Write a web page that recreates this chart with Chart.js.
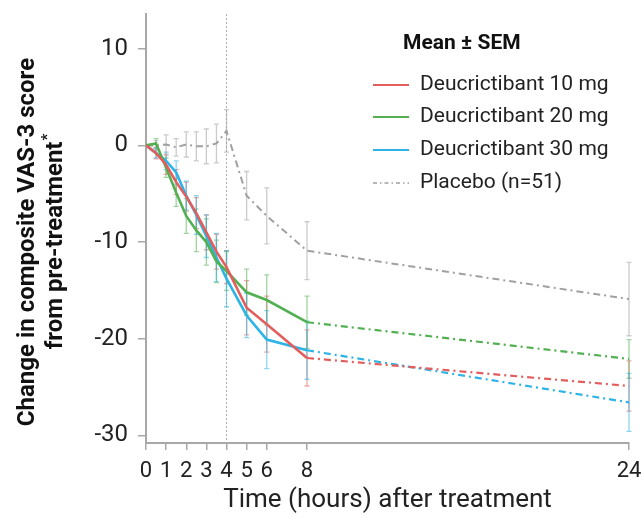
<!DOCTYPE html>
<html>
<head>
<meta charset="utf-8">
<script src="https://cdn.jsdelivr.net/npm/chart.js@4.4.1/dist/chart.umd.min.js"></script>
<style>
    html, body { margin: 0; padding: 0; background: #fff; }
    #wrap { width: 641px; height: 518px; }
</style>
</head>
<body>
<div id="wrap"><canvas id="vasChart"></canvas></div>
<script>
// Sampling times (hours after treatment)
const hours = [0, 0.5, 1, 1.5, 2, 2.5, 3, 3.5, 4, 5, 6, 8, 24];
const xTickHours = [0, 1, 2, 3, 4, 5, 6, 8, 24];
const yTickValues = [10, 0, -10, -20, -30];

// Mean change from pre-treatment and SEM
const dose10 = [0, -0.8, -2.0, -3.8, -5.3, -7.0, -9.0, -11.0, -12.6, -16.8, -18.5, -22.0, -24.9];
const dose10Sem = [0, 0.6, 1.0, 1.3, 1.5, 1.6, 1.8, 1.8, 1.7, 2.8, 2.9, 2.9, 2.6];
const dose20 = [0, 0.2, -2.3, -4.9, -7.3, -8.8, -10.0, -12.0, -13.0, -15.2, -16.0, -18.3, -22.1];
const dose20Sem = [0, 0.5, 1.0, 1.4, 1.8, 2.2, 2.4, 2.2, 2.0, 2.4, 2.6, 2.7, 2.0];
const dose30 = [0, -0.8, -1.6, -2.8, -5.2, -7.2, -9.4, -11.6, -13.8, -17.6, -20.1, -21.2, -26.6];
const dose30Sem = [0, 0.5, 0.9, 1.2, 1.5, 2.0, 2.2, 2.5, 2.9, 2.3, 3.0, 3.0, 3.0];
const placebo = [0, 0, 0.1, -0.2, 0.1, -0.1, -0.1, 0.2, 1.5, -5.2, -7.3, -10.9, -15.9];
const placeboSem = [0, 0.5, 1.0, 0.9, 1.3, 1.5, 1.8, 2.0, 2.2, 2.5, 2.9, 3.0, 3.8];

const seriesLabels = ['Deucrictibant 10 mg', 'Deucrictibant 20 mg', 'Deucrictibant 30 mg', 'Placebo (n=51)'];
const legendTitle = 'Mean ± SEM';
const treatmentHour = 4;
const solidUntilHour = 8;

const FONT = 'Roboto, "Noto Sans", sans-serif';
const DASH_DOT = [7, 4, 2, 4];

const colors = {
    red: '#e35d5d',
    green: '#52b052',
    blue: '#2db4e6',
    gray: '#a0a0a0'
};
const barColors = ['rgba(227, 93, 93, 0.55)', 'rgba(82, 176, 82, 0.55)', 'rgba(45, 180, 230, 0.55)', 'rgba(160, 160, 160, 0.55)'];

function points(values) {
    return hours.map((h, i) => ({ x: h, y: values[i] }));
}

function drugDataset(label, values, sem, color) {
    return {
        label: label,
        data: points(values),
        sem: sem,
        borderColor: color,
        borderWidth: 2.6,
        pointRadius: 0,
        tension: 0,
        segment: {
            borderDash: ctx => ctx.p0.parsed.x >= solidUntilHour ? DASH_DOT : undefined,
            borderWidth: ctx => ctx.p0.parsed.x >= solidUntilHour ? 2.2 : 2.6
        }
    };
}

// Error bars, drawn under the lines
const errorBarPlugin = {
    id: 'errorBars',
    beforeDatasetsDraw(chart) {
        const ctx = chart.ctx;
        const x = chart.scales.x;
        const y = chart.scales.y;
        ctx.save();
        chart.data.datasets.forEach((ds, di) => {
            ctx.strokeStyle = barColors[di];
            ctx.lineWidth = 1.3;
            ds.data.forEach((p, i) => {
                const s = ds.sem[i];
                if (!s) return;
                const px = x.getPixelForValue(p.x);
                const top = y.getPixelForValue(p.y + s);
                const bottom = y.getPixelForValue(p.y - s);
                ctx.beginPath();
                ctx.moveTo(px, top);
                ctx.lineTo(px, bottom);
                ctx.moveTo(px - 2.5, top);
                ctx.lineTo(px + 2.5, top);
                ctx.moveTo(px - 2.5, bottom);
                ctx.lineTo(px + 2.5, bottom);
                ctx.stroke();
            });
        });
        ctx.restore();
    }
};

// Dotted vertical line at the 4 h mark
const markerLinePlugin = {
    id: 'markerLine',
    beforeDatasetsDraw(chart) {
        const ctx = chart.ctx;
        const area = chart.chartArea;
        const px = chart.scales.x.getPixelForValue(treatmentHour);
        ctx.save();
        ctx.strokeStyle = '#b0b0b0';
        ctx.lineWidth = 1;
        ctx.setLineDash([2, 2]);
        ctx.beginPath();
        ctx.moveTo(px, area.top);
        ctx.lineTo(px, area.bottom);
        ctx.stroke();
        ctx.restore();
    }
};

// Legend box and rotated y title
const annotationPlugin = {
    id: 'annotations',
    afterDraw(chart) {
        const ctx = chart.ctx;
        ctx.save();

        ctx.fillStyle = '#111';
        ctx.textBaseline = 'middle';
        ctx.font = 'bold 21px ' + FONT;
        ctx.fillText(legendTitle, 403, 44);

        const lineColors = [colors.red, colors.green, colors.blue, colors.gray];
        const rowY = [85, 117, 150, 183];
        ctx.font = '21px ' + FONT;
        seriesLabels.forEach((label, i) => {
            ctx.strokeStyle = lineColors[i];
            ctx.lineWidth = i === 3 ? 1.3 : 1.8;
            ctx.setLineDash(i === 3 ? [4, 3, 1.5, 3] : []);
            ctx.beginPath();
            ctx.moveTo(373, rowY[i]);
            ctx.lineTo(409, rowY[i]);
            ctx.stroke();
            ctx.fillStyle = '#222';
            ctx.fillText(label, 420, rowY[i]);
        });
        ctx.setLineDash([]);

        // y axis title, two lines with a superscript asterisk
        ctx.translate(0, 242);
        ctx.rotate(-Math.PI / 2);
        ctx.fillStyle = '#111';
        ctx.textAlign = 'center';
        ctx.font = 'bold 24px ' + FONT;
        ctx.fillText('Change in composite VAS-3 score', 0, 28);
        const line2 = 'from pre-treatment';
        const w2 = ctx.measureText(line2).width;
        ctx.font = 'bold 15px ' + FONT;
        const wStar = ctx.measureText('*').width;
        const startX = -(w2 + wStar) / 2;
        ctx.textAlign = 'left';
        ctx.font = 'bold 24px ' + FONT;
        ctx.fillText(line2, startX, 56);
        ctx.font = 'bold 15px ' + FONT;
        ctx.fillText('*', startX + w2 + 1, 48);

        ctx.restore();
    }
};

const ctx = document.getElementById('vasChart');

new Chart(ctx, {
    type: 'line',
    data: {
        datasets: [
            drugDataset(seriesLabels[0], dose10, dose10Sem, colors.red),
            drugDataset(seriesLabels[1], dose20, dose20Sem, colors.green),
            drugDataset(seriesLabels[2], dose30, dose30Sem, colors.blue),
            {
                label: seriesLabels[3],
                data: points(placebo),
                sem: placeboSem,
                borderColor: colors.gray,
                borderWidth: 2,
                borderDash: DASH_DOT,
                pointRadius: 0,
                tension: 0
            }
        ]
    },
    options: {
        responsive: true,
        maintainAspectRatio: false,
        animation: false,
        layout: {
            padding: { top: 14, right: 0, bottom: 0, left: 0 }
        },
        plugins: {
            legend: { display: false },
            tooltip: { enabled: false }
        },
        scales: {
            x: {
                type: 'linear',
                min: 0,
                max: 24,
                afterBuildTicks: scale => {
                    scale.ticks = xTickHours.map(v => ({ value: v }));
                },
                afterFit: scale => {
                    scale.height = 75;
                    scale.paddingLeft = 0;
                    scale.paddingRight = 12;
                },
                grid: {
                    drawOnChartArea: false,
                    tickLength: 7,
                    color: '#a8a8a8',
                    lineWidth: 1.5
                },
                border: { color: '#a8a8a8', width: 2 },
                ticks: {
                    color: '#222',
                    padding: 8,
                    maxRotation: 0,
                    autoSkip: false,
                    font: { family: FONT, size: 22 }
                },
                title: {
                    display: true,
                    text: 'Time (hours) after treatment',
                    color: '#222',
                    font: { family: FONT, size: 26 },
                    padding: { top: 0, bottom: 2 }
                }
            },
            y: {
                type: 'linear',
                min: -30.8,
                max: 13.6,
                afterBuildTicks: scale => {
                    scale.ticks = yTickValues.map(v => ({ value: v }));
                },
                afterFit: scale => {
                    scale.width = 146;
                    scale.paddingTop = 0;
                    scale.paddingBottom = 0;
                },
                grid: {
                    drawOnChartArea: false,
                    tickLength: 8,
                    color: '#a8a8a8',
                    lineWidth: 1.5
                },
                border: { color: '#a8a8a8', width: 2 },
                ticks: {
                    color: '#222',
                    padding: 10,
                    font: { family: FONT, size: 24 }
                }
            }
        }
    },
    plugins: [markerLinePlugin, errorBarPlugin, annotationPlugin]
});
</script>
</body>
</html>
